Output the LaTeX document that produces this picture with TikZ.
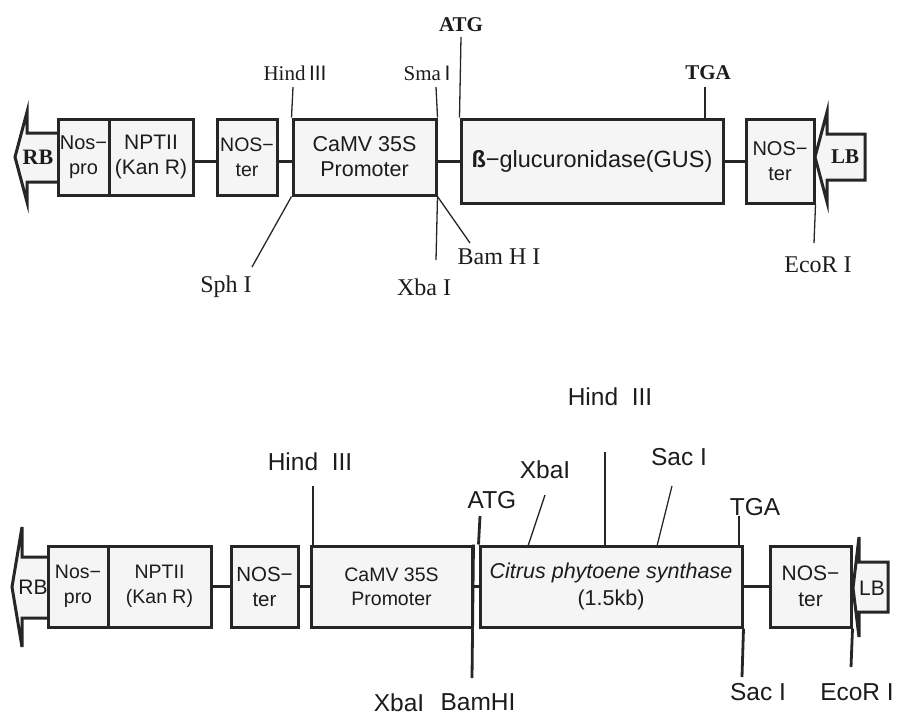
\documentclass[tikz,border=0pt]{standalone}
\usepackage{fontspec}
\setmainfont{Liberation Serif}
\newfontfamily\sansf{Liberation Sans}
\definecolor{inkc}{HTML}{262626}
\definecolor{boxc}{HTML}{F5F5F5}
\definecolor{txtc}{HTML}{1C1C1C}
\begin{document}
\begin{tikzpicture}[x=1pt,y=-1pt,
  gbox/.style={draw=inkc, line width=3pt, fill=boxc, inner sep=0pt, align=center, text=txtc,
    font=\sansf\fontsize{21}{25}\selectfont},
  arrowshape/.style={draw=inkc, line width=3pt, fill=boxc, line join=miter},
  link/.style={draw=inkc, line width=3pt},
  tick/.style={draw=inkc, line width=1.3pt},
  ttick/.style={draw=inkc, line width=2.8pt},
  serlab/.style={text=txtc, inner sep=0pt, font=\fontsize{24}{24}\selectfont},
  sersmall/.style={text=txtc, inner sep=0pt, font=\fontsize{21}{21}\selectfont},
  serbold/.style={text=txtc, inner sep=0pt, font=\bfseries\fontsize{21}{21}\selectfont},
  sanlab/.style={text=txtc, inner sep=0pt, font=\sansf\fontsize{24.5}{24}\selectfont},
  endlab/.style={text=txtc, inner sep=0pt},
]
\useasboundingbox (0,0) rectangle (901,716);

% ================= TOP CONSTRUCT =================
\path[arrowshape] (15,157) -- (27,112) -- (27,133) -- (60,133) -- (60,182) -- (27,182) -- (27,202) -- cycle;
\path[arrowshape] (815,157) -- (827,112) -- (827,134) -- (865,134) -- (865,180) -- (827,180) -- (827,202) -- cycle;

\node[gbox, minimum width=51, minimum height=76, font=\sansf\fontsize{20}{25}\selectfont] (nospro1) at (83.5,157) {Nos−\\pro};
\node[gbox, minimum width=84, minimum height=76] (nptii1) at (151,157) {NPTII\\(Kan R)};
\node[gbox, minimum width=60, minimum height=76, font=\sansf\fontsize{19.5}{25}\selectfont] (noster1) at (247,157) {NOS−\\ter};
\node[gbox, minimum width=143, minimum height=76, font=\sansf\fontsize{21.5}{25}\selectfont] (camv1) at (364.5,157) {CaMV 35S\\Promoter};
\node[gbox, minimum width=262, minimum height=84, font=\sansf\fontsize{23.5}{25}\selectfont] (gus) at (592,161) {{\bfseries ß}−glucuronidase(GUS)};
\node[gbox, minimum width=68, minimum height=84, font=\sansf\fontsize{20}{25}\selectfont] (noster2) at (780,161) {NOS−\\ter};

\node[endlab, font=\bfseries\fontsize{22}{22}\selectfont] (rb1) at (38,157) {RB};
\node[endlab, font=\bfseries\fontsize{21}{21}\selectfont] (lb1) at (845,157) {LB};

\draw[link] (nptii1.east |- gus) -- (noster1.west |- gus);
\draw[link] (noster1.east |- gus) -- (camv1.west |- gus);
\draw[link] (camv1.east |- gus) -- (gus.west);
\draw[link] (gus.east) -- (noster2.west);

\node[sersmall] (hind1) at (295,73) {Hind\,{\sansf III}};
\node[sersmall] (sma1) at (427,73) {Sma\,{\sansf I}};
\node[serbold] (atg1) at (461,25) {ATG};
\node[serbold] (tga1) at (708,73) {TGA};
\node[serlab] (sph1) at (226,287) {Sph I};
\node[serlab] (xba1) at (424,287) {Xba I};
\node[serlab] (bam1) at (499,257) {Bam H I};
\node[serlab] (eco1) at (818,265) {EcoR I};

\coordinate (hindT) at (293,87);
\coordinate (smaT) at (436,87);
\coordinate (atgT) at (461,37);
\coordinate (tgaT) at (705,87);
\coordinate (tgaB) at (705,119);
\coordinate (sphT) at (252,267);
\coordinate (xbaT) at (436,260);
\coordinate (bamT) at (470,243);
\coordinate (ecoT) at (814,243);

\draw[tick] (camv1.north west) -- (hindT);
\draw[tick] (camv1.north east) -- (smaT);
\draw[tick] (gus.north west) -- (atgT);
\draw[tick] (tgaB) -- (tgaT);
\draw[tick] (camv1.south west) -- (sphT);
\draw[tick] (camv1.south east) -- (xbaT);
\draw[tick] (camv1.south east) -- (bamT);
\draw[tick] (noster2.south east) -- (ecoT);

% ================= BOTTOM CONSTRUCT =================
\path[arrowshape] (12,587) -- (22,527) -- (22,557) -- (50,557) -- (50,618) -- (22,618) -- (22,647) -- cycle;
\path[arrowshape] (853,588) -- (859,537) -- (859,562) -- (888,562) -- (888,612) -- (859,612) -- (859,637) -- cycle;

\node[gbox, minimum width=60, minimum height=81, font=\sansf\fontsize{19.5}{25}\selectfont] (nospro2) at (78,586.5) {Nos−\\pro};
\node[gbox, minimum width=103, minimum height=81, font=\sansf\fontsize{19.5}{25}\selectfont] (nptii2) at (159.5,586.5) {NPTII\\(Kan R)};
\node[gbox, minimum width=67, minimum height=81, font=\sansf\fontsize{20.5}{25}\selectfont] (noster3) at (264.5,586.5) {NOS−\\ter};
\node[gbox, minimum width=161, minimum height=81, font=\sansf\fontsize{19.5}{24}\selectfont] (camv2) at (391.5,586.5) {CaMV 35S\\Promoter};
\node[gbox, minimum width=262, minimum height=81, font=\sansf\fontsize{21.5}{27}\selectfont] (citrus) at (611,586.5) {\itshape Citrus phytoene synthase\\(1.5kb)};
\node[gbox, minimum width=81, minimum height=81, font=\sansf\fontsize{21}{26}\selectfont] (noster4) at (810.5,586.5) {NOS−\\ter};

\node[endlab, font=\sansf\fontsize{21}{21}\selectfont] (rb2) at (33,587) {RB};
\node[endlab, font=\sansf\fontsize{21}{21}\selectfont] (lb2) at (872,588) {LB};

\draw[link] (nptii2.east) -- (noster3.west);
\draw[link] (noster3.east) -- (camv2.west);
\draw[link] (camv2.east) -- (citrus.west);
\draw[link] (citrus.east) -- (noster4.west);

\node[sanlab] (hind2) at (310,462) {Hind\ \ III};
\node[sanlab] (hind3) at (610,397) {Hind\ \ III};
\node[sanlab] (xbat) at (545,470) {XbaI};
\node[sanlab] (sact) at (679,457) {Sac I};
\node[sanlab] (atg2) at (492,500) {ATG};
\node[sanlab] (tga2) at (755,507) {TGA};
\node[sanlab] (xbab) at (399,703) {XbaI};
\node[sanlab] (bamb) at (478,702) {BamHI};
\node[sanlab] (sacb) at (758,692) {Sac I};
\node[sanlab] (ecob) at (857,692) {EcoR I};

\coordinate (h2T) at (313,486);
\coordinate (h2B) at (313,546);
\coordinate (h3T) at (605,452);
\coordinate (h3B) at (605,546);
\coordinate (xtT) at (545,495);
\coordinate (xtB) at (528,546);
\coordinate (stT) at (672,486);
\coordinate (stB) at (657,546);
\coordinate (atgT2) at (480,516);
\coordinate (tgaT2) at (739,516);
\coordinate (tgaB2) at (739,546);
\coordinate (bamE) at (472,678);
\coordinate (sacE) at (742,677);
\coordinate (ecoE) at (851,667);

\draw[tick] (h2B) -- (h2T);
\draw[tick] (h3B) -- (h3T);
\draw[tick] (xtB) -- (xtT);
\draw[tick] (stB) -- (stT);
\draw[ttick] (citrus.north west) -- (atgT2);
\draw[ttick] (tgaB2) -- (tgaT2);
\draw[ttick] (camv2.north east) -- (bamE);
\draw[ttick] (citrus.south east) -- (sacE);
\draw[ttick] (noster4.south east) -- (ecoE);
\end{tikzpicture}
\end{document}
